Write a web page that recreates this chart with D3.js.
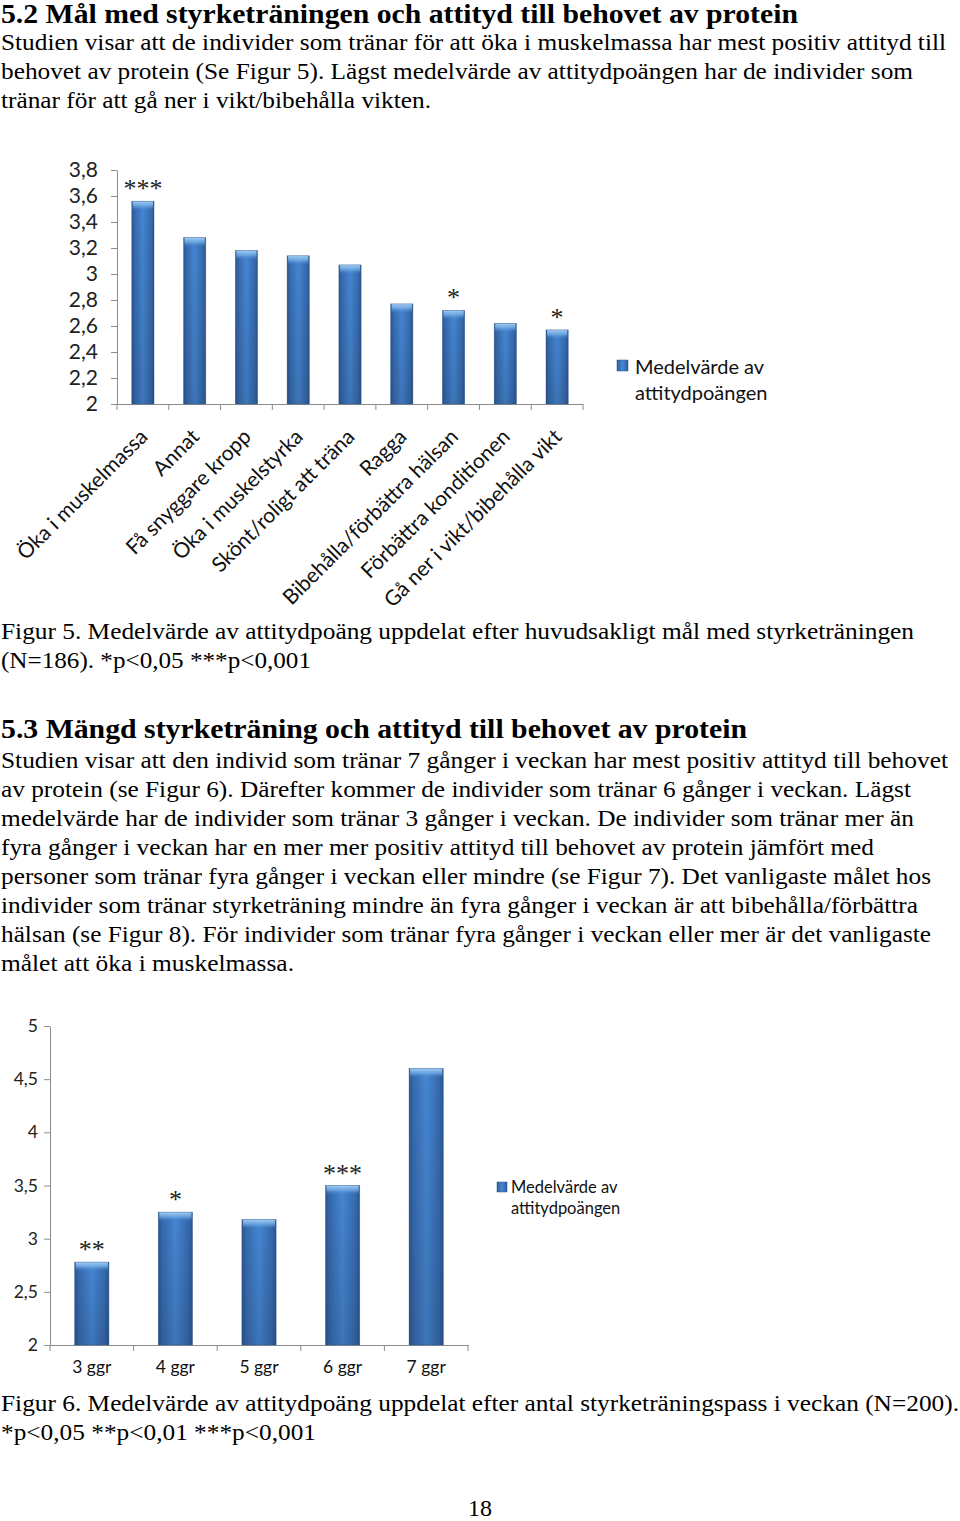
<!DOCTYPE html>
<html><head><meta charset="utf-8">
<script src="https://cdn.jsdelivr.net/npm/d3@7"></script>
<style>body{margin:0;background:#fff}svg{display:block}
.serif{font-family:"Liberation Serif","Times New Roman",Times,serif}
.sans{font-family:Lato,"Open Sans",sans-serif}</style>
</head><body><svg id="c" width="960" height="1521"></svg>
<script>
// ---------- data ----------
const goalCategories = ["Öka i muskelmassa","Annat","Få snyggare kropp","Öka i muskelstyrka","Skönt/roligt att träna","Ragga","Bibehålla/förbättra hälsan","Förbättra konditionen","Gå ner i vikt/bibehålla vikt"];
const goalMeans = [3.56, 3.28, 3.18, 3.14, 3.07, 2.77, 2.72, 2.62, 2.57];
const goalSignificance = ["***","","","","","","*","","*"];
const goalTicks = [2, 2.2, 2.4, 2.6, 2.8, 3, 3.2, 3.4, 3.6, 3.8];

const freqCategories = ["3 ggr","4 ggr","5 ggr","6 ggr","7 ggr"];
const freqMeans = [2.78, 3.25, 3.18, 3.5, 4.6];
const freqSignificance = ["**","*","","***",""];
const freqTicks = [2, 2.5, 3, 3.5, 4, 4.5, 5];

const legendLines = ["Medelvärde av","attitydpoängen"];

const heading1 = "5.2 Mål med styrketräningen och attityd till behovet av protein";
const para1 = ["Studien visar att de individer som tränar för att öka i muskelmassa har mest positiv attityd till",
  "behovet av protein (Se Figur 5). Lägst medelvärde av attitydpoängen har de individer som",
  "tränar för att gå ner i vikt/bibehålla vikten."];
const caption1 = ["Figur 5. Medelvärde av attitydpoäng uppdelat efter huvudsakligt mål med styrketräningen",
  "(N=186). *p<0,05 ***p<0,001"];
const heading2 = "5.3 Mängd styrketräning och attityd till behovet av protein";
const para2 = ["Studien visar att den individ som tränar 7 gånger i veckan har mest positiv attityd till behovet",
  "av protein (se Figur 6). Därefter kommer de individer som tränar 6 gånger i veckan. Lägst",
  "medelvärde har de individer som tränar 3 gånger i veckan. De individer som tränar mer än",
  "fyra gånger i veckan har en mer mer positiv attityd till behovet av protein jämfört med",
  "personer som tränar fyra gånger i veckan eller mindre (se Figur 7). Det vanligaste målet hos",
  "individer som tränar styrketräning mindre än fyra gånger i veckan är att bibehålla/förbättra",
  "hälsan (se Figur 8). För individer som tränar fyra gånger i veckan eller mer är det vanligaste",
  "målet att öka i muskelmassa."];
const caption2 = ["Figur 6. Medelvärde av attitydpoäng uppdelat efter antal styrketräningspass i veckan (N=200).",
  "*p<0,05 **p<0,01 ***p<0,001"];
const pageNumber = "18";

// ---------- layout ----------
const svg = d3.select("#c");
svg.append("rect").attr("width",960).attr("height",1521).attr("fill","#fff");

const defs = svg.append("defs");
const g1 = defs.append("linearGradient").attr("id","barH").attr("x1","0").attr("x2","1").attr("y1","0").attr("y2","0");
[[0,"#2a558f"],[0.12,"#3669ad"],[0.5,"#4586d2"],[0.88,"#3669ad"],[1,"#2a558f"]].forEach(([o,c])=>g1.append("stop").attr("offset",o).attr("stop-color",c));
const g2 = defs.append("linearGradient").attr("id","barTop").attr("x1","0").attr("x2","0").attr("y1","0").attr("y2","1");
[[0,"#a9d2f6",0.95],[0.5,"#7db6ec",0.7],[1,"#4a8ad6",0]].forEach(([o,c,a])=>g2.append("stop").attr("offset",o).attr("stop-color",c).attr("stop-opacity",a));
const g3 = defs.append("linearGradient").attr("id","barShade").attr("x1","0").attr("x2","0").attr("y1","0").attr("y2","1");
[[0,"#000",0],[1,"#000",0.12]].forEach(([o,c,a])=>g3.append("stop").attr("offset",o).attr("stop-color",c).attr("stop-opacity",a));

function textLine(str, x, y, size, weight, width){
  const t = svg.append("text").attr("class","serif").attr("x",x).attr("y",y)
    .attr("font-size",size).attr("font-weight",weight).attr("fill","#000").text(str);
  if(width) t.attr("textLength",width).attr("lengthAdjust","spacingAndGlyphs");
  return t;
}

// heading & paragraphs
textLine(heading1, 1, 23, 27, "bold", 797);
const p1W = [945, 912, 430];
para1.forEach((s,i)=>textLine(s, 1, 50 + i*29, 24, "normal", p1W[i]));
const c1W = [913, 310];
caption1.forEach((s,i)=>textLine(s, 1, 639 + i*29, 24, "normal", c1W[i]));
textLine(heading2, 1, 738, 27, "bold", 746);
const p2W = [947, 910, 913, 873, 930, 917, 930, 293];
para2.forEach((s,i)=>textLine(s, 1, 768 + i*29, 24, "normal", p2W[i]));
const c2W = [958, 315];
caption2.forEach((s,i)=>textLine(s, 1, 1411 + i*29, 24, "normal", c2W[i]));
svg.append("text").attr("class","serif").attr("x",480).attr("y",1516).attr("text-anchor","middle").attr("font-size",24).text(pageNumber);

const fmt = d => String(d).replace(".", ",");

function drawBars(g, cats, vals, x, y, y0){
  const bw = x.bandwidth();
  cats.forEach((c,i)=>{
    const bx = x(c), by = y(vals[i]), bh = y0 - by;
    g.append("rect").attr("x",bx).attr("y",by).attr("width",bw).attr("height",bh).attr("fill","url(#barH)");
    g.append("rect").attr("x",bx).attr("y",by).attr("width",bw).attr("height",bh).attr("fill","url(#barShade)");
    g.append("rect").attr("x",bx+1).attr("y",by).attr("width",bw-2).attr("height",Math.min(9,bh)).attr("fill","url(#barTop)");
    g.append("rect").attr("x",bx).attr("y",by).attr("width",bw).attr("height",bh).attr("fill","none").attr("stroke","#2b5488").attr("stroke-width",0.6).attr("stroke-opacity",0.6);
  });
}
function styleAxis(a){
  a.select(".domain").attr("stroke","#8c8c8c");
  a.selectAll(".tick line").attr("stroke","#8c8c8c");
}

// ---------- chart 1 ----------
{
  const x = d3.scaleBand().domain(goalCategories).range([117, 583]).paddingInner(0.57).paddingOuter(0.285);
  const y = d3.scaleLinear().domain([2, 3.8]).range([404, 170]);
  const g = svg.append("g");
  const ya = g.append("g").attr("transform","translate(117,0)")
    .call(d3.axisLeft(y).tickValues(goalTicks).tickFormat(fmt).tickSize(6).tickPadding(13).tickSizeOuter(0));
  ya.selectAll("text").attr("class","sans").attr("font-family",null).attr("font-size",21).attr("fill","#222");
  styleAxis(ya);
  const xa = g.append("g").attr("transform","translate(0,404)")
    .call(d3.axisBottom(x).tickSize(0).tickFormat(""));
  styleAxis(xa);
  d3.range(goalCategories.length + 1).forEach(i=>{
    const tx = 117 + i * (583-117)/goalCategories.length;
    g.append("line").attr("x1",tx).attr("x2",tx).attr("y1",404).attr("y2",410).attr("stroke","#8c8c8c");
  });
  drawBars(g, goalCategories, goalMeans, x, y, 404);
  goalCategories.forEach((c,i)=>{
    const cx = x(c) + x.bandwidth()/2;
    if(goalSignificance[i]) g.append("text").attr("class","serif").attr("x",cx).attr("y",y(goalMeans[i]) - 4)
      .attr("text-anchor","middle").attr("font-size",26).attr("fill","#222").text(goalSignificance[i]);
    g.append("text").attr("class","sans").attr("transform",`translate(${cx+6},${438}) rotate(-45)`)
      .attr("text-anchor","end").attr("font-size",21).attr("fill","#111").text(c);
  });
  g.append("rect").attr("x",617).attr("y",360).attr("width",11).attr("height",11).attr("fill","url(#barH)").attr("stroke","#2b5488").attr("stroke-width",0.5);
  legendLines.forEach((s,i)=>g.append("text").attr("class","sans").attr("x",635).attr("y",374 + i*26).attr("font-size",20).attr("fill","#111").text(s));
}

// ---------- chart 2 ----------
{
  const x = d3.scaleBand().domain(freqCategories).range([50, 468]).paddingInner(0.59).paddingOuter(0.295);
  const y = d3.scaleLinear().domain([2, 5]).range([1345, 1026]);
  const g = svg.append("g");
  const ya = g.append("g").attr("transform","translate(50,0)")
    .call(d3.axisLeft(y).tickValues(freqTicks).tickFormat(fmt).tickSize(6).tickPadding(6).tickSizeOuter(0));
  ya.selectAll("text").attr("class","sans").attr("font-family",null).attr("font-size",17.5).attr("fill","#222");
  styleAxis(ya);
  const xa = g.append("g").attr("transform","translate(0,1345)")
    .call(d3.axisBottom(x).tickSize(0).tickPadding(16).tickFormat(d=>d));
  xa.selectAll("text").attr("class","sans").attr("font-family",null).attr("font-size",17.5).attr("fill","#111");
  styleAxis(xa);
  d3.range(freqCategories.length + 1).forEach(i=>{
    const tx = 50 + i * (468-50)/freqCategories.length;
    g.append("line").attr("x1",tx).attr("x2",tx).attr("y1",1345).attr("y2",1351).attr("stroke","#8c8c8c");
  });
  drawBars(g, freqCategories, freqMeans, x, y, 1345);
  freqCategories.forEach((c,i)=>{
    const cx = x(c) + x.bandwidth()/2;
    if(freqSignificance[i]) g.append("text").attr("class","serif").attr("x",cx).attr("y",y(freqMeans[i]) - 4)
      .attr("text-anchor","middle").attr("font-size",26).attr("fill","#222").text(freqSignificance[i]);
  });
  g.append("rect").attr("x",497).attr("y",1182).attr("width",10).attr("height",10).attr("fill","url(#barH)").attr("stroke","#2b5488").attr("stroke-width",0.5);
  legendLines.forEach((s,i)=>g.append("text").attr("class","sans").attr("x",511).attr("y",1193 + i*21).attr("font-size",16.5).attr("fill","#111").text(s));
}
</script></body></html>
